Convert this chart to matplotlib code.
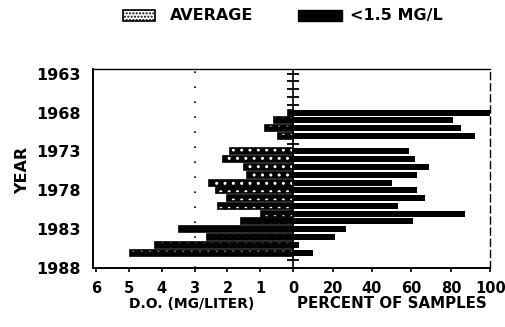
import numpy as np
import matplotlib.pyplot as plt
from matplotlib.patches import Rectangle

plt.rcParams['font.family'] = ['DejaVu Sans']
plt.rcParams['font.weight'] = 'bold'

years = list(range(1963, 1989))

# average dissolved oxygen (mg/L) per year, nan = no sampling
avg_do = [np.nan, np.nan, np.nan, np.nan, np.nan,
          0.15, 0.57, 0.86, 0.47, np.nan,
          1.91, 2.15, 1.50, 1.42, 2.56,
          2.35, 2.00, 2.30, 0.98, 1.60,
          3.49, 2.61, 4.21, 4.98, np.nan, np.nan]

# percent of samples below 1.5 mg/L
pct_low = [np.nan, np.nan, np.nan, np.nan, np.nan,
           100, 81, 85, 92, np.nan,
           59, 62, 69, 63, 50,
           63, 67, 53, 87, 61,
           27, 21, 3, 10, np.nan, np.nan]

do_ticks = [6, 5, 4, 3, 2, 1, 0]
pct_ticks = [20, 40, 60, 80, 100]

# both halves share one x axis: left half is mg/L, right half is percent
DO_UNIT = 100 / 6

years = np.array(years)
avg_do = np.array(avg_do)
pct_low = np.array(pct_low)

fig = plt.figure(figsize=(5.06, 3.27), dpi=100)
ax = fig.add_axes([0.184, 0.180, 0.785, 0.609])

has_do = ~np.isnan(avg_do)
ax.barh(years[has_do], -avg_do[has_do] * DO_UNIT, height=0.78,
        color='black', hatch='..', edgecolor='white', linewidth=0)
ax.barh(years[has_do], -avg_do[has_do] * DO_UNIT, height=0.78,
        fill=False, edgecolor='black', linewidth=1.2)

has_pct = ~np.isnan(pct_low)
ax.barh(years[has_pct], pct_low[has_pct], height=0.78, color='black')

# zero line with ticks at years without data
ax.axvline(0, color='black', lw=1.2)
empty = years[~has_do & ~has_pct]
ax.plot(np.zeros(len(empty)), empty, ls='none', marker='_', ms=8,
        mew=1.3, color='black')

# 3 mg/L reference
ax.axvline(-3 * DO_UNIT, color='black', lw=1.2, ls=(0, (1, 8)))

ax.set_xlim(-101.5, 100)
ax.set_ylim(1988, 1962.4)

xt = [-d * DO_UNIT for d in do_ticks] + pct_ticks
xl = [str(d) for d in do_ticks] + [str(p) for p in pct_ticks]
ax.set_xticks(xt)
ax.set_xticklabels(xl, fontsize=10.5, fontweight='bold')
ax.tick_params(axis='x', direction='out', length=3, width=1.2, pad=6)

ax.set_yticks(range(1963, 1989, 5))
ax.set_yticklabels([str(y) for y in range(1963, 1989, 5)],
                   fontsize=11.5, fontweight='bold')
ax.tick_params(axis='y', length=0, pad=9)

for side in ['left', 'bottom']:
    ax.spines[side].set_linewidth(1.4)
ax.spines['top'].set_linewidth(1.0)
ax.spines['right'].set_linewidth(1.0)
ax.spines['right'].set_linestyle((0, (5, 3)))

ax.text(-3.1 * DO_UNIT, -0.18, 'D.O. (MG/LITER)', transform=ax.get_xaxis_transform(),
        ha='center', va='center', fontsize=10, fontweight='bold')
ax.text(50, -0.18, 'PERCENT OF SAMPLES', transform=ax.get_xaxis_transform(),
        ha='center', va='center', fontsize=10.8, fontweight='bold')

fig.text(0.045, 0.48, 'YEAR', rotation=90, ha='center', va='center',
         fontsize=11.5, fontweight='bold')

# legend drawn by hand above the plot
fig.add_artist(Rectangle((123 / 506, 1 - 21 / 327), 32 / 506, 11 / 327,
                         transform=fig.transFigure, facecolor='white',
                         edgecolor='black', hatch='.....', linewidth=1.2))
fig.text(170 / 506, 1 - 15.5 / 327, 'AVERAGE', ha='left', va='center',
         fontsize=11.5, fontweight='bold')
fig.add_artist(Rectangle((298 / 506, 1 - 21 / 327), 44 / 506, 11 / 327,
                         transform=fig.transFigure, facecolor='black',
                         edgecolor='black'))
fig.text(350 / 506, 1 - 15.5 / 327, '<1.5 MG/L', ha='left', va='center',
         fontsize=11.5, fontweight='bold')

fig.savefig('out.png', dpi=100)
